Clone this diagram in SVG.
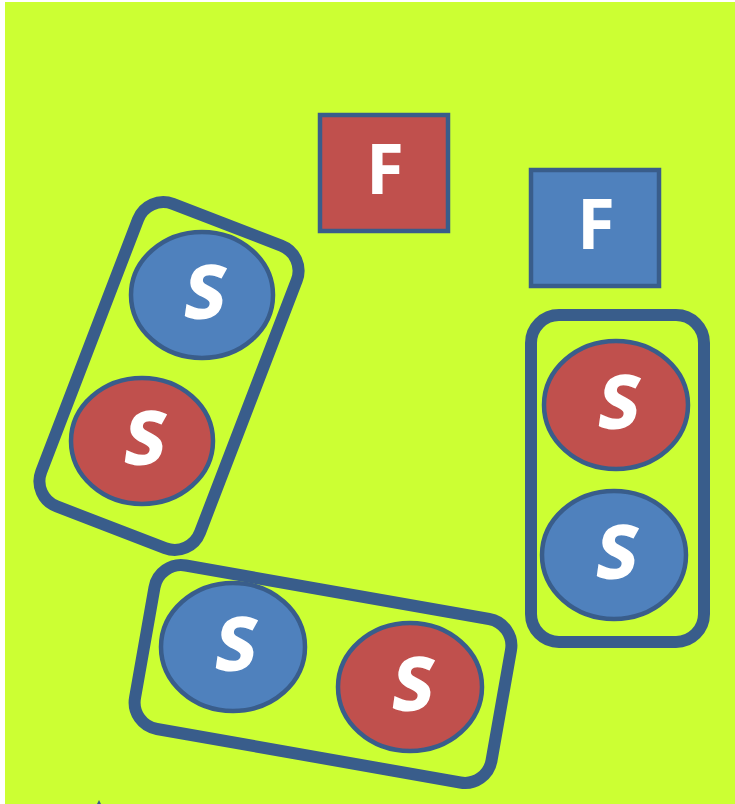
<svg xmlns="http://www.w3.org/2000/svg" width="735" height="804" viewBox="0 0 735 804">
<style>
.grp{fill:none;stroke:#395d8b;stroke-width:12}
.sq{stroke:#395d8b;stroke-width:4.5}
.el{stroke:#395d8b;stroke-width:4.5}
.red{fill:#c0504d}
.blue{fill:#4f81bd}
.lbl{font-family:"Open Sans","Liberation Sans",sans-serif;font-weight:bold;fill:#ffffff;text-anchor:middle}
.f{font-size:69px}
.s{font-size:73px;stroke:#ffffff;stroke-width:1.6}
</style>
<rect x="0" y="0" width="735" height="804" fill="#ffffff"/>
<rect x="5" y="2" width="730" height="802" fill="#ccff33"/>
<g id="connectors"></g>
<g id="groupLeft">
<rect class="grp" x="-85" y="-162" width="170" height="324" rx="27" transform="translate(169,376) rotate(21)"/>
</g>
<g id="groupBottom">
<rect class="grp" x="-181" y="-83" width="362" height="166" rx="27" transform="translate(323,674) rotate(10)"/>
</g>
<g id="groupRight">
<rect class="grp" x="531" y="315" width="173" height="327" rx="28"/>
</g>
<g id="F1">
<rect class="sq red" x="320" y="115" width="128" height="116"/>
<text class="lbl f" x="385" y="194">F</text>
</g>
<g id="F2">
<rect class="sq blue" x="531" y="170" width="128" height="116"/>
<text class="lbl f" x="596" y="249">F</text>
</g>
<g id="S1">
<ellipse class="el blue" cx="202" cy="295" rx="71" ry="63"/>
<text class="lbl s" transform="translate(202,318) skewX(-8)">S</text>
</g>
<g id="S2">
<ellipse class="el red" cx="142" cy="441" rx="71" ry="63"/>
<text class="lbl s" transform="translate(142,464) skewX(-8)">S</text>
</g>
<g id="S3">
<ellipse class="el red" cx="616" cy="405" rx="72" ry="64"/>
<text class="lbl s" transform="translate(616,428) skewX(-8)">S</text>
</g>
<g id="S4">
<ellipse class="el blue" cx="614" cy="555" rx="72" ry="64"/>
<text class="lbl s" transform="translate(614,578) skewX(-8)">S</text>
</g>
<g id="S5">
<ellipse class="el blue" cx="233" cy="647" rx="72" ry="64"/>
<text class="lbl s" transform="translate(233,670) skewX(-8)">S</text>
</g>
<g id="S6">
<ellipse class="el red" cx="410" cy="687" rx="72" ry="64"/>
<text class="lbl s" transform="translate(410,710) skewX(-8)">S</text>
</g>
<polygon points="97,804 99,800 101,804" fill="#395d8b"/>
</svg>
